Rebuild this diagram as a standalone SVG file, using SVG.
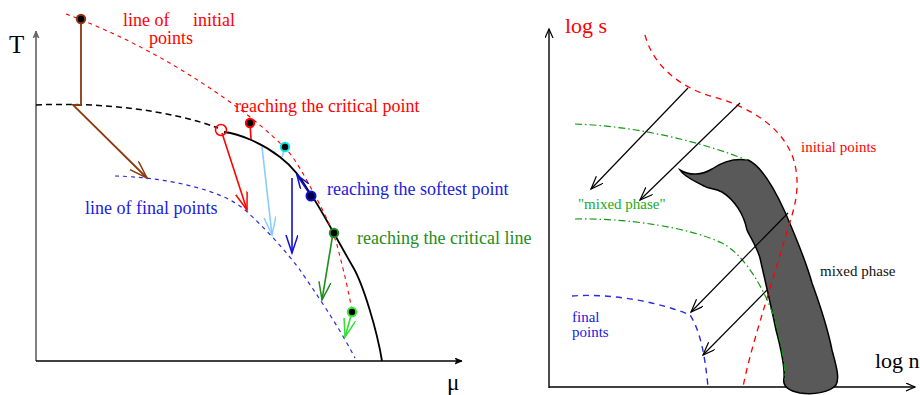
<svg xmlns="http://www.w3.org/2000/svg" width="920" height="395" viewBox="0 0 920 395">
<style>
text{font-family:"Liberation Serif","Times New Roman",serif}
.l{font-size:18px}
.r{font-size:15px}
.ln{fill:none}
</style>
<defs>
<marker id="ah-brown" markerWidth="20" markerHeight="14" refX="18" refY="6" orient="auto" markerUnits="userSpaceOnUse"><path d="M0,0 L18,6 L0,12" fill="none" stroke="#8b3a0f" stroke-width="1.5"/></marker>
<marker id="ah-red" markerWidth="20" markerHeight="14" refX="18" refY="6" orient="auto" markerUnits="userSpaceOnUse"><path d="M0,0 L18,6 L0,12" fill="none" stroke="#ff0000" stroke-width="1.5"/></marker>
<marker id="ah-sky" markerWidth="20" markerHeight="14" refX="18" refY="6" orient="auto" markerUnits="userSpaceOnUse"><path d="M0,0 L18,6 L0,12" fill="none" stroke="#87cefa" stroke-width="1.5"/></marker>
<marker id="ah-blue" markerWidth="20" markerHeight="14" refX="18" refY="6" orient="auto" markerUnits="userSpaceOnUse"><path d="M0,0 L18,6 L0,12" fill="none" stroke="#1010d0" stroke-width="1.5"/></marker>
<marker id="ah-blue-s" markerWidth="16" markerHeight="12" refX="14" refY="5" orient="auto" markerUnits="userSpaceOnUse"><path d="M0,0 L14,5 L0,10" fill="none" stroke="#1010d0" stroke-width="1.5"/></marker>
<marker id="ah-dgreen" markerWidth="20" markerHeight="14" refX="18" refY="6" orient="auto" markerUnits="userSpaceOnUse"><path d="M0,0 L18,6 L0,12" fill="none" stroke="#1e8c1e" stroke-width="1.5"/></marker>
<marker id="ah-lgreen" markerWidth="20" markerHeight="14" refX="18" refY="6" orient="auto" markerUnits="userSpaceOnUse"><path d="M0,0 L18,6 L0,12" fill="none" stroke="#33dd33" stroke-width="1.5"/></marker>
<marker id="ah-black" markerWidth="16" markerHeight="12" refX="13" refY="5" orient="auto" markerUnits="userSpaceOnUse"><path d="M0,0 L13,5 L0,10" fill="none" stroke="#000" stroke-width="1.2"/></marker>
<marker id="ax-open" markerWidth="12" markerHeight="10" refX="9" refY="4" orient="auto" markerUnits="userSpaceOnUse"><path d="M0,0 L9,4 L0,8" fill="none" stroke="#000" stroke-width="1.2"/></marker>
<marker id="ax-gray" markerWidth="10" markerHeight="8" refX="7" refY="3" orient="auto" markerUnits="userSpaceOnUse"><path d="M0,0 L7,3 L0,6 L2,3 Z" fill="#666" stroke="#666" stroke-width="0.8"/></marker>
<marker id="ax-black" markerWidth="10" markerHeight="8" refX="7" refY="3" orient="auto" markerUnits="userSpaceOnUse"><path d="M0,0 L7,3 L0,6 L2,3 Z" fill="#000" stroke="#000" stroke-width="0.8"/></marker>
</defs>
<rect width="920" height="395" fill="#fff"/>

<!-- LEFT PANEL -->
<g id="left-axes">
<line x1="36" y1="361" x2="36" y2="31" stroke="#808080" stroke-width="2" marker-end="url(#ax-gray)"/>
<line x1="36" y1="361" x2="462" y2="361" stroke="#000" stroke-width="1.5" marker-end="url(#ax-black)"/>
<text x="9" y="53" font-size="25">T</text>
<text x="447" y="390" font-size="23">μ</text>
</g>

<g id="left-curves" class="ln">
<path id="phase-boundary-dashed" d="M36,105 C 100,102 170,110 218,128" stroke="#000" stroke-width="1.5" stroke-dasharray="6 4"/>
<path id="phase-boundary-solid" d="M224,132 C 240,134 262,143 280,157 S 303,183 312,196 S 343,250 353,267 S 377,330 382,361" stroke="#000" stroke-width="1.8"/>
<path id="initial-line" d="M66,14 Q 150,45 230,102 C 250,116 270,133 285,148 C 295,158 305,177 312,190 C 322,208 332,228 337,245 C 343,268 349,292 352,312" stroke="#ff0000" stroke-width="1.1" stroke-dasharray="4 4"/>
<path id="final-line" d="M115,176 C 160,177 220,188 245,210 C 265,228 285,250 300,270 C 315,292 338,325 355,358" stroke="#2a2ae0" stroke-width="1.2" stroke-dasharray="4 4"/>
</g>

<g id="left-connectors" class="ln">
<path d="M81,19 L81,105 L73,105 L147,178" stroke="#8b3a0f" stroke-width="1.8" marker-end="url(#ah-brown)"/>
<line x1="222" y1="133" x2="247" y2="210" stroke="#ff0000" stroke-width="1.6" marker-end="url(#ah-red)"/>
<line x1="250" y1="123" x2="251" y2="139" stroke="#ff0000" stroke-width="1.6"/>
<line x1="262" y1="147" x2="272" y2="235" stroke="#87cefa" stroke-width="1.6" marker-end="url(#ah-sky)"/>
<line x1="285" y1="147" x2="282" y2="157" stroke="#87cefa" stroke-width="1.6"/>
<line x1="292" y1="178" x2="292" y2="253" stroke="#1010d0" stroke-width="1.6" marker-end="url(#ah-blue)"/>
<line x1="311" y1="196" x2="297" y2="175" stroke="#1010d0" stroke-width="1.6" marker-end="url(#ah-blue-s)"/>
<line x1="333" y1="233" x2="322" y2="300" stroke="#1e8c1e" stroke-width="1.6" marker-end="url(#ah-dgreen)"/>
<line x1="352" y1="312" x2="345" y2="337" stroke="#33dd33" stroke-width="1.6" marker-end="url(#ah-lgreen)"/>
</g>

<g id="left-points" stroke-width="2">
<circle cx="81" cy="19" r="4.2" fill="#000" stroke="#8b3a0f"/>
<circle cx="221" cy="130" r="5.5" fill="none" stroke="#ff0000" stroke-width="1.5"/>
<circle cx="250" cy="123" r="4.2" fill="#000" stroke="#ff0000"/>
<circle cx="285" cy="147" r="4.2" fill="#000" stroke="#00e5ee"/>
<circle cx="311" cy="196" r="4.5" fill="#000033" stroke="#1010d0"/>
<circle cx="334" cy="233" r="4.2" fill="#000" stroke="#1e8c1e"/>
<circle cx="352" cy="312" r="4.2" fill="#000" stroke="#33ee33"/>
</g>

<g id="left-labels" class="l">
<text x="123" y="26" fill="#ff0000">line of</text>
<text x="193" y="26" fill="#ff0000">initial</text>
<text x="149" y="44" fill="#ff0000">points</text>
<text x="235" y="112" fill="#ff0000">reaching the critical point</text>
<text x="327" y="195" fill="#2020e0">reaching the softest point</text>
<text x="357" y="244" fill="#1e8c1e">reaching the critical line</text>
<text x="85" y="214" fill="#2020e0">line of final points</text>
</g>

<!-- RIGHT PANEL -->
<g id="right-axes">
<line x1="549" y1="388" x2="549" y2="29" stroke="#000" stroke-width="1.4" marker-end="url(#ax-open)"/>
<line x1="549" y1="387" x2="915" y2="387" stroke="#000" stroke-width="1.4" marker-end="url(#ax-open)"/>
<text x="565" y="33" font-size="22" fill="#ff0000">log s</text>
<text x="875" y="368" font-size="22" fill="#000">log n</text>
</g>

<g id="mixed-phase-region">
<path d="M680,170 C 690,176 702,175 712,169 C 722,162 735,158 748,160 C 762,166 775,190 785,212 C 795,235 805,258 812,283 C 820,305 828,330 832,350 C 836,365 840,378 836,385 C 830,392 815,395 800,393 C 790,391 782,387 784,378 C 785,365 780,345 776,330 C 772,310 766,285 760,258 C 756,245 750,237 747,230 C 744,215 735,200 722,192 C 714,188 708,189 704,186 C 695,181 684,177 680,170 Z" fill="#595959" stroke="#000" stroke-width="1.5"/>
</g>

<g id="right-curves" class="ln">
<path id="r-initial" d="M645,35 C 652,62 675,85 710,96 C 750,106 790,130 796,170 C 800,195 792,215 786,235 C 770,290 750,350 743,387" stroke="#ff0000" stroke-width="1.3" stroke-dasharray="6 5"/>
<path id="r-green1" d="M575,124 C 630,126 690,138 747,160" stroke="#119911" stroke-width="1.2" stroke-dasharray="7 3 1.5 3"/>
<path id="r-green2" d="M575,219 C 630,218 690,228 722,243 C 745,255 765,290 775,320 C 782,345 785,365 785,380" stroke="#119911" stroke-width="1.2" stroke-dasharray="7 3 1.5 3"/>
<path id="r-final" d="M572,296 C 610,293 660,302 690,315 C 700,330 705,355 708,387" stroke="#2a2ae0" stroke-width="1.4" stroke-dasharray="6 5"/>
</g>

<g id="right-connectors" class="ln" stroke="#000" stroke-width="1.2">
<line x1="688" y1="88" x2="591" y2="189" marker-end="url(#ah-black)"/>
<line x1="740" y1="103" x2="640" y2="200" marker-end="url(#ah-black)"/>
<line x1="788" y1="213" x2="691" y2="312" marker-end="url(#ah-black)"/>
<line x1="767" y1="290" x2="703" y2="355" marker-end="url(#ah-black)"/>
</g>

<g id="right-labels" class="r">
<text x="801" y="152" fill="#ff0000">initial points</text>
<text x="820" y="276" fill="#111">mixed phase</text>
<text x="578" y="209" fill="#22aa22">"mixed phase"</text>
<text x="572" y="322" fill="#2020e0">final</text>
<text x="572" y="337" fill="#2020e0">points</text>
</g>
</svg>
